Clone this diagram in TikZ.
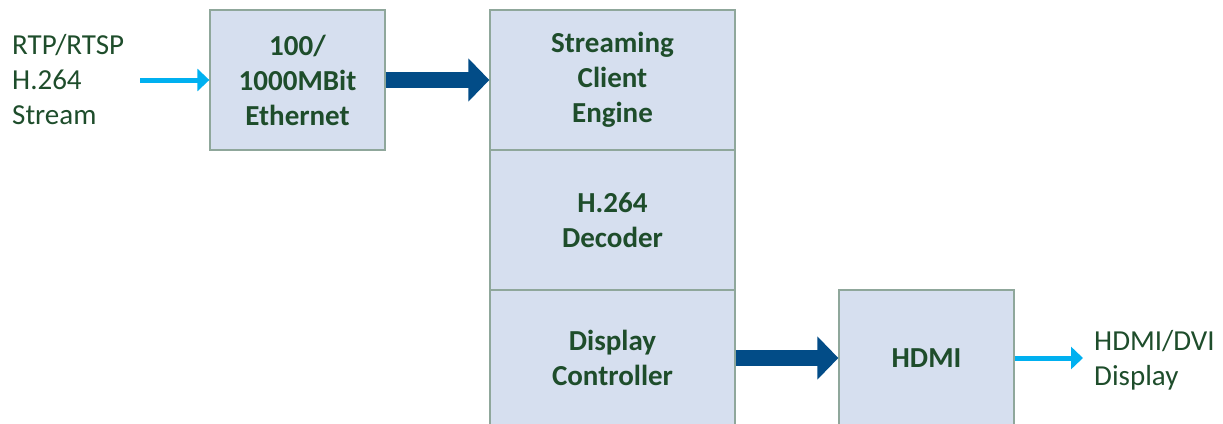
\documentclass[tikz,border=0pt]{standalone}
\usepackage{fontspec}
\setmainfont{Carlito}
\usetikzlibrary{arrows.meta,positioning}
\definecolor{boxfill}{HTML}{D6DFEF}
\definecolor{boxline}{HTML}{8FA79B}
\definecolor{txt}{HTML}{1E4D2B}
\definecolor{darkarrow}{HTML}{024C87}
\definecolor{lightarrow}{HTML}{00B0F0}
\begin{document}
\begin{tikzpicture}[x=1pt,y=-1pt,
  blk/.style={draw=boxline,line width=1.3pt,fill=boxfill,inner sep=0pt,
    font=\fontsize{29}{35}\selectfont\bfseries,text=txt,align=center},
  blktext/.style={text=txt,font=\fontsize{29}{35}\selectfont\bfseries,align=center,inner sep=0pt},
  lbl/.style={font=\fontsize{29}{35}\selectfont,text=txt,align=left,inner sep=0pt},
  bigarrow/.style={draw=darkarrow,line width=16.5pt,-{Triangle[width=42pt,length=21pt,fill=darkarrow]}},
  smallarrow/.style={draw=lightarrow,line width=5pt,-{Triangle[width=22pt,length=12pt,fill=lightarrow]}}]
\useasboundingbox (0,0) rectangle (1223,423);
\clip (0,0) rectangle (1223,423);
\node[blk,minimum width=175pt,minimum height=140pt] (eth) at (297.5,80) {100/\\1000MBit\\Ethernet};
\node[blk,minimum width=245pt,minimum height=140pt] (sce) at (612.5,80) {Streaming\\Client\\Engine};
\node[blk,minimum width=245pt,minimum height=140pt] (dec) at (612.5,220) {H.264\\Decoder};
\node[blk,minimum width=245pt,minimum height=150pt] (dc) at (612.5,365) {};
\node[blktext] (dct) at (612.5,358) {Display\\Controller};
\node[blk,minimum width=175pt,minimum height=150pt] (hdmi) at (926.5,365) {};
\node[blktext] (hdmit) at (926.5,358) {HDMI};
\node[lbl,anchor=west] (src) at (12,80) {RTP/RTSP\\H.264\\Stream};
\node[lbl,anchor=west] (dst) at (1094,360) {HDMI/DVI\\Display};
\coordinate (a0) at (140,80);
\coordinate (b1) at (1083,358);
\draw[smallarrow] (a0) -- (eth.west);
\draw[bigarrow] (eth.east) -- (sce.west);
\draw[bigarrow] (dc.east |- dct) -- (hdmi.west |- hdmit);
\draw[smallarrow] (hdmi.east |- hdmit) -- (b1);
\end{tikzpicture}
\end{document}
